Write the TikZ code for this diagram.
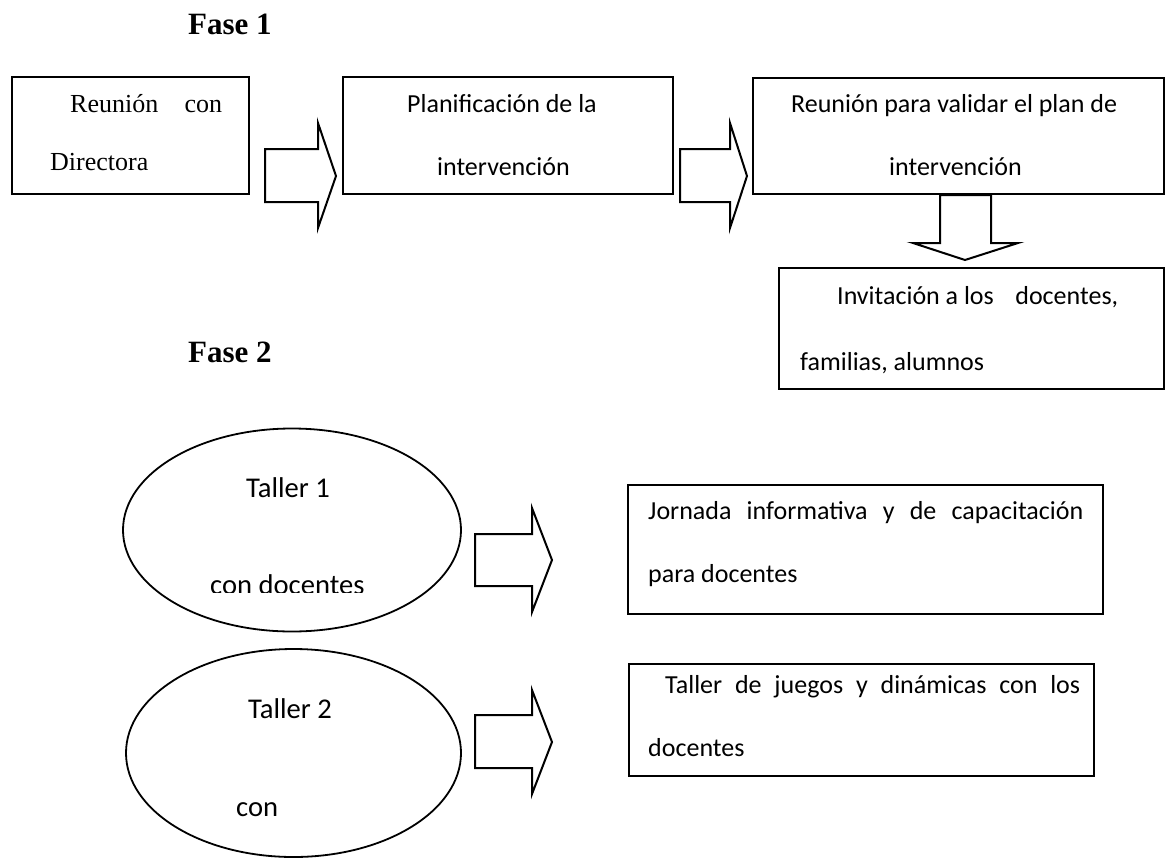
\documentclass[tikz,border=0pt]{standalone}
\usepackage{fontspec}
\setmainfont{Liberation Serif}
\newfontfamily\calibri{Carlito}
\usetikzlibrary{shapes.geometric}
\tikzset{
  caja/.style = {rectangle, draw=black, line width=2pt, anchor=north west,
    inner sep=0pt},% recuadro
  elipse/.style = {ellipse, draw=black, line width=1.8pt, inner sep=0pt},
  flecha/.style = {draw=black, line width=2pt, fill=white},% flecha de bloque
  txt_t/.style = {anchor=base west, inner sep=0pt,
    font=\fontsize{26}{30}\selectfont},% Times
  txt_c/.style = {anchor=base west, inner sep=0pt,
    font=\calibri\fontsize{26}{30}\selectfont},% Calibri
  txt_e/.style = {txt_c, font=\calibri\fontsize{28.6}{33}\selectfont},
  fase/.style = {anchor=base west, inner sep=0pt,
    font=\bfseries\fontsize{31}{36}\selectfont}
}

\begin{document}
\begin{tikzpicture}[x=1pt, y=-1pt]
\useasboundingbox (0,0) rectangle (1167,857);

% Fase 1
\node[fase] (f1) at (188,34) {Fase 1};

\node[caja, minimum width=237, minimum height=117] (c1) at (11,76) {};
\node[txt_t] (c1a) at (70,112) {\makebox[152pt][s]{Reunión con}};
\node[txt_t] (c1b) at (50,170) {Directora};

\node[caja, minimum width=330, minimum height=117] (c2) at (342,76) {};
\node[txt_c] (c2a) at (407,112) {Planificación de la};
\node[txt_c] (c2b) at (437,175) {intervención};

\node[caja, minimum width=411, minimum height=116] (c3) at (752,77) {};
\node[txt_c] (c3a) at (791,112) {Reunión para validar el plan de};
\node[txt_c] (c3b) at (889,175) {intervención};

\node[caja, minimum width=385, minimum height=121] (c4) at (778,267) {};
\node[txt_c] (c4a) at (837,304) {\makebox[281pt][l]{Invitación a los\hfill docentes,}};
\node[txt_c] (c4b) at (800,370) {familias, alumnos};

\draw[flecha] (265,149) -- (318,149) -- (318,123) -- (336,176) -- (318,228)
  -- (318,202) -- (265,202) -- cycle;
\draw[flecha] (680,149) -- (730,149) -- (730,123) -- (747,176) -- (730,228)
  -- (730,202) -- (680,202) -- cycle;
\draw[flecha] (940,195) -- (991,195) -- (991,243) -- (1018,243) -- (965,260)
  -- (913,243) -- (940,243) -- cycle;

% Fase 2
\node[fase] (f2) at (188,362) {Fase 2};

\node[elipse, minimum width=338, minimum height=203] (e1) at (292,530) {};
\node[txt_e] (e1a) at (246,497) {Taller 1};
\begin{scope}
  \clip (0,0) rectangle (1167,592);
  \node[txt_e] (e1b) at (210,594) {con docentes};
\end{scope}

\node[elipse, minimum width=335, minimum height=208] (e2) at (293.5,753) {};
\node[txt_e] (e2a) at (248,718) {Taller 2};
\node[txt_e] (e2b) at (236,816) {con};

\draw[flecha] (475,534) -- (532,534) -- (532,508) -- (552,560) -- (532,612)
  -- (532,586) -- (475,586) -- cycle;
\draw[flecha] (475,715) -- (532,715) -- (532,690) -- (552,742) -- (532,794)
  -- (532,768) -- (475,768) -- cycle;

\node[caja, minimum width=475, minimum height=129] (c5) at (627,484) {};
\node[txt_c] (c5a) at (648,519) {\makebox[435pt][s]{Jornada informativa y de capacitación}};
\node[txt_c] (c5b) at (648,582) {para docentes};

\node[caja, minimum width=465, minimum height=112] (c6) at (628,663) {};
\node[txt_c] (c6a) at (665,693) {\makebox[415pt][s]{Taller de juegos y dinámicas con los}};
\node[txt_c] (c6b) at (648,756) {docentes};
\end{tikzpicture}
\end{document}
